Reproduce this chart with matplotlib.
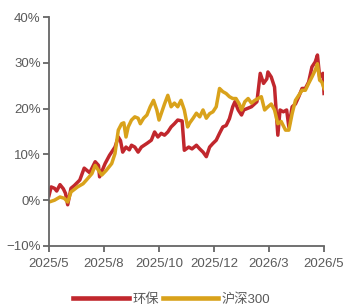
import matplotlib
matplotlib.use("Agg")
import matplotlib.pyplot as plt
from matplotlib.ticker import FuncFormatter

# trading-day index (0..250) and cumulative returns (%)
red_day = [0, 2, 5, 7, 10, 13, 15, 17, 20, 23, 28, 32, 37, 42, 45, 46, 51, 55, 60, 63, 65, 67, 70, 73, 75, 78, 81, 84, 89, 93, 96, 99, 102, 105, 108, 111, 114, 117, 121, 123, 127, 130, 134, 137, 140, 143, 146, 149, 152, 155, 158, 161, 164, 167, 169, 172, 175, 177, 180, 184, 189, 192, 195, 198, 199, 202, 205, 208, 210, 213, 216, 218, 221, 224, 227, 230, 233, 236, 239, 242, 244, 246, 249, 250]
red_val = [1.0, 2.9, 2.6, 2.0, 3.4, 2.5, 1.5, -1.0, 2.6, 3.2, 4.4, 7.0, 6.0, 8.4, 7.6, 5.1, 8.0, 9.8, 11.6, 13.8, 13.0, 10.5, 11.6, 11.0, 12.0, 11.6, 10.5, 11.6, 12.4, 13.1, 14.9, 13.8, 14.6, 14.2, 14.9, 16.0, 16.7, 17.5, 17.3, 10.9, 11.6, 11.2, 12.0, 11.2, 10.5, 9.5, 11.6, 12.4, 13.1, 14.6, 16.0, 16.3, 17.8, 20.4, 21.5, 19.7, 18.6, 19.7, 20.0, 20.4, 21.5, 27.7, 25.5, 26.5, 28.0, 26.9, 24.7, 14.2, 19.7, 19.3, 19.7, 16.0, 20.4, 21.0, 22.6, 24.4, 24.4, 25.8, 29.1, 30.2, 31.7, 26.9, 27.7, 23.3]

yel_day = [0, 5, 10, 14, 17, 20, 26, 31, 34, 39, 42, 45, 48, 52, 57, 60, 63, 66, 68, 70, 72, 75, 78, 81, 83, 86, 89, 92, 95, 98, 100, 102, 105, 108, 111, 114, 117, 120, 123, 126, 128, 131, 134, 137, 140, 143, 146, 149, 152, 155, 158, 161, 164, 167, 170, 173, 175, 178, 181, 184, 187, 190, 193, 196, 199, 202, 205, 208, 211, 215, 218, 221, 224, 227, 230, 233, 236, 239, 242, 244, 246, 248, 250]
yel_val = [-0.4, 0.0, 0.7, 0.4, -0.4, 1.8, 2.9, 3.6, 4.4, 5.8, 7.6, 6.5, 5.5, 6.5, 8.0, 10.2, 15.3, 16.7, 16.9, 13.8, 16.0, 17.5, 18.2, 17.9, 16.7, 17.9, 18.6, 20.4, 21.8, 19.7, 17.5, 18.9, 21.0, 22.9, 20.4, 21.2, 20.4, 21.8, 19.7, 16.0, 16.9, 17.9, 19.0, 18.2, 19.7, 17.9, 18.9, 19.3, 20.4, 24.4, 23.7, 23.3, 22.6, 22.2, 22.2, 21.0, 19.7, 21.5, 22.2, 21.2, 21.8, 22.2, 22.6, 19.7, 20.4, 21.0, 19.7, 16.7, 17.2, 15.3, 15.3, 18.9, 21.8, 22.9, 24.0, 24.0, 25.5, 26.9, 28.4, 29.8, 26.2, 25.8, 24.4]

tick_days = [0, 50, 100, 150, 200, 250]
tick_labels = ["2025/5", "2025/8", "2025/10", "2025/12", "2026/3", "2026/5"]
y_ticks = [-10, 0, 10, 20, 30, 40]

plt.rcParams['font.family'] = ['Liberation Sans', 'Noto Sans CJK SC', 'DejaVu Sans']

fig = plt.figure(figsize=(3.44, 3.07), dpi=100)
ax = fig.add_axes([0.1424, 0.1987, 0.7996, 0.7459])

red_c = "#C1272D"
yel_c = "#D9A21B"
ax.plot(red_day, red_val, color=red_c, lw=2.5, label="环保", solid_joinstyle="round")
ax.plot(yel_day, yel_val, color=yel_c, lw=2.5, label="沪深300", solid_joinstyle="round")

ax.set_xlim(0, 250)
ax.set_ylim(-10, 40)
ax.set_xticks(tick_days)
ax.set_xticklabels(tick_labels)
ax.set_yticks(y_ticks)
ax.yaxis.set_major_formatter(FuncFormatter(lambda v, p: ("\u2212" if v < 0 else "") + f"{abs(int(v))}%"))

for s in ["top", "right"]:
    ax.spines[s].set_visible(False)
for s in ["left", "bottom"]:
    ax.spines[s].set_color("#666666")
    ax.spines[s].set_linewidth(1.3)
ax.tick_params(axis="both", colors="#666666", labelcolor="#5a5a5a", labelsize=9.5,
               length=4.5, width=1.3, direction="out")
ax.tick_params(axis="x", pad=4)
ax.tick_params(axis="y", pad=1.5)

leg = fig.legend(loc="center", bbox_to_anchor=(0.5, 0.025), ncol=2, frameon=False,
                 fontsize=9.5, handlelength=4.2, handletextpad=0.3, columnspacing=0.25,
                 labelcolor="#5a5a5a")
for h in leg.get_lines():
    h.set_linewidth(3.3)

fig.savefig("out.png", dpi=100)
